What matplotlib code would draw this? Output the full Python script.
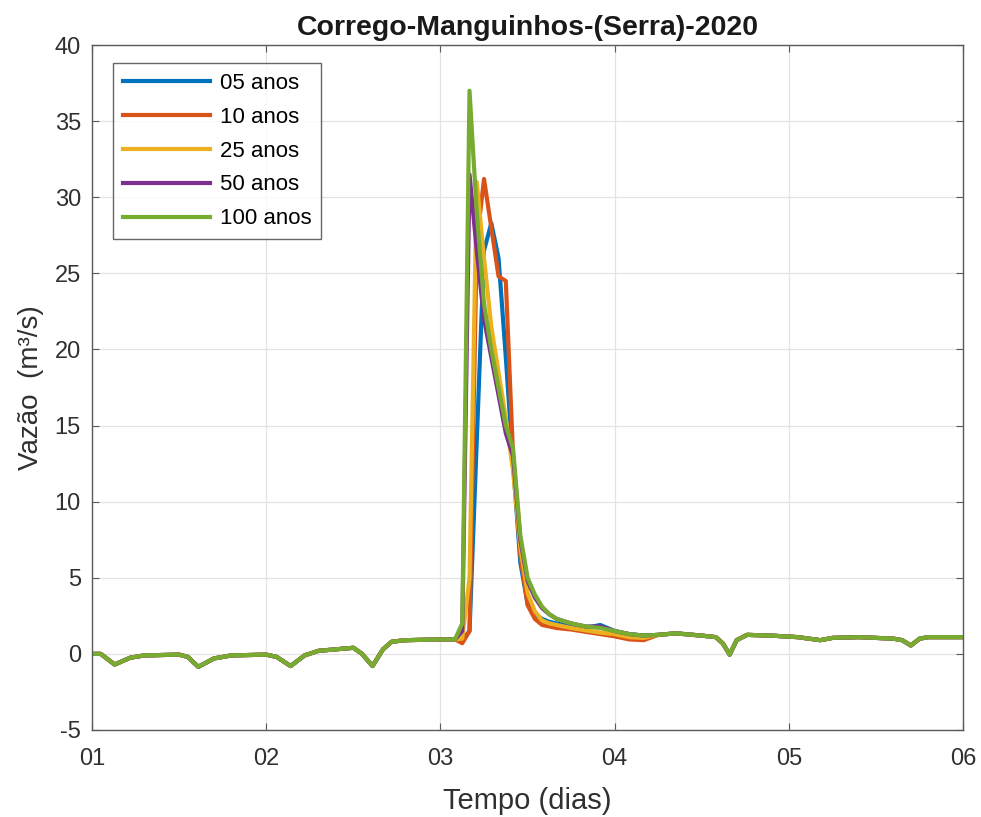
import matplotlib
matplotlib.use("Agg")
import matplotlib.pyplot as plt
import numpy as np

plt.rcParams['font.family'] = ['Liberation Sans', 'DejaVu Sans']
plt.rcParams['axes.unicode_minus'] = False

# ---- data (days, m3/s) ----
t_pre = [1.00, 1.05, 1.13, 1.22, 1.30, 1.50, 1.55, 1.61, 1.70, 1.80, 2.00, 2.06, 2.14,
         2.22, 2.30, 2.45, 2.50, 2.55, 2.61, 2.67, 2.72, 2.80, 3.00, 3.083]
q_pre = [0.0, 0.0, -0.7, -0.25, -0.1, -0.05, -0.2, -0.85, -0.3, -0.1, -0.05, -0.2, -0.8,
         -0.1, 0.2, 0.35, 0.4, 0.0, -0.8, 0.3, 0.8, 0.9, 0.95, 0.95]

t_event = [3.125, 3.1667, 3.2083, 3.25, 3.2917, 3.3333, 3.375, 3.4167, 3.4583, 3.5,
           3.5417, 3.5833, 3.625, 3.6667, 3.75, 3.8333, 3.9167, 4.0, 4.0833, 4.1667, 4.25]
q05_event = [0.9, 1.5, 14.0, 26.5, 28.3, 26.0, 19.5, 12.5, 6.0, 3.3,
             2.6, 2.3, 2.1, 2.0, 1.8, 1.7, 1.9, 1.5, 1.3, 1.2, 1.25]
q10_event = [0.7, 1.5, 27.0, 31.2, 28.0, 24.8, 24.5, 13.0, 6.5, 3.2,
             2.3, 1.9, 1.8, 1.7, 1.6, 1.45, 1.3, 1.15, 0.95, 0.9, 1.25]
q25_event = [1.0, 5.0, 31.0, 26.0, 21.5, 18.5, 15.5, 12.0, 7.0, 4.0,
             2.8, 2.2, 2.0, 1.9, 1.7, 1.55, 1.4, 1.3, 1.1, 1.05, 1.25]
q50_event = [1.5, 31.5, 26.5, 22.0, 19.5, 17.0, 14.5, 13.0, 7.5, 4.8,
             3.7, 3.0, 2.6, 2.3, 2.0, 1.8, 1.8, 1.5, 1.3, 1.2, 1.25]
q100_event = [2.0, 37.0, 29.0, 23.0, 20.0, 17.5, 15.0, 13.5, 7.8, 5.0,
              3.9, 3.1, 2.6, 2.3, 2.0, 1.8, 1.7, 1.5, 1.3, 1.2, 1.25]

t_post = [4.35, 4.50, 4.58, 4.62, 4.66, 4.70, 4.76, 4.90, 5.05, 5.18, 5.25, 5.40,
          5.60, 5.65, 5.70, 5.75, 5.80, 6.00]
q_post = [1.35, 1.2, 1.1, 0.7, -0.05, 0.9, 1.25, 1.2, 1.1, 0.9, 1.05, 1.1,
          1.0, 0.9, 0.55, 1.0, 1.1, 1.1]

labels = ['05 anos', '10 anos', '25 anos', '50 anos', '100 anos']
colors = ['#0072BD', '#D95319', '#EDB120', '#7E2F8E', '#77AC30']
events = [q05_event, q10_event, q25_event, q50_event, q100_event]

xticks = [1, 2, 3, 4, 5, 6]
xticklabels = ['01', '02', '03', '04', '05', '06']
yticks = list(range(-5, 41, 5))

fig = plt.figure(figsize=(9.81, 8.17), dpi=100)
ax = fig.add_axes([0.0938, 0.1065, 0.888, 0.8384])

t_all = t_pre + t_event + t_post
for lab, col, ev in zip(labels, colors, events):
    ax.plot(t_all, q_pre + ev + q_post, color=col, lw=3.0, label=lab,
            solid_joinstyle='round')

ax.set_xlim(1, 6)
ax.set_ylim(-5, 40)
ax.set_xticks(xticks)
ax.set_xticklabels(xticklabels)
ax.set_yticks(yticks)
ax.grid(True, color='#e3e3e3', lw=0.9)
ax.set_axisbelow(True)
ax.tick_params(direction='in', top=True, right=True, labelsize=17,
               labelcolor='#303030', color='#5a5a5a', length=5, width=0.8)
ax.tick_params(axis='x', pad=13)
ax.tick_params(axis='y', pad=8)
for s in ax.spines.values():
    s.set_color('#5a5a5a')
    s.set_linewidth(1.0)

ax.set_title('Corrego-Manguinhos-(Serra)-2020', fontsize=20.5, fontweight='bold',
             color='#1a1a1a', pad=7)
ax.set_xlabel('Tempo (dias)', fontsize=21, color='#303030', labelpad=12)
ax.set_ylabel('Vazão  (m³/s)', fontsize=20, color='#303030', labelpad=8)

leg = ax.legend(loc='upper left', bbox_to_anchor=(0.024, 0.974), fontsize=16,
                frameon=True, fancybox=False, edgecolor='#404040',
                handlelength=3.9, labelspacing=0.58, borderpad=0.45,
                handletextpad=0.45, borderaxespad=0.0)
leg.get_frame().set_linewidth(1.0)

fig.savefig('out.png', dpi=100)
